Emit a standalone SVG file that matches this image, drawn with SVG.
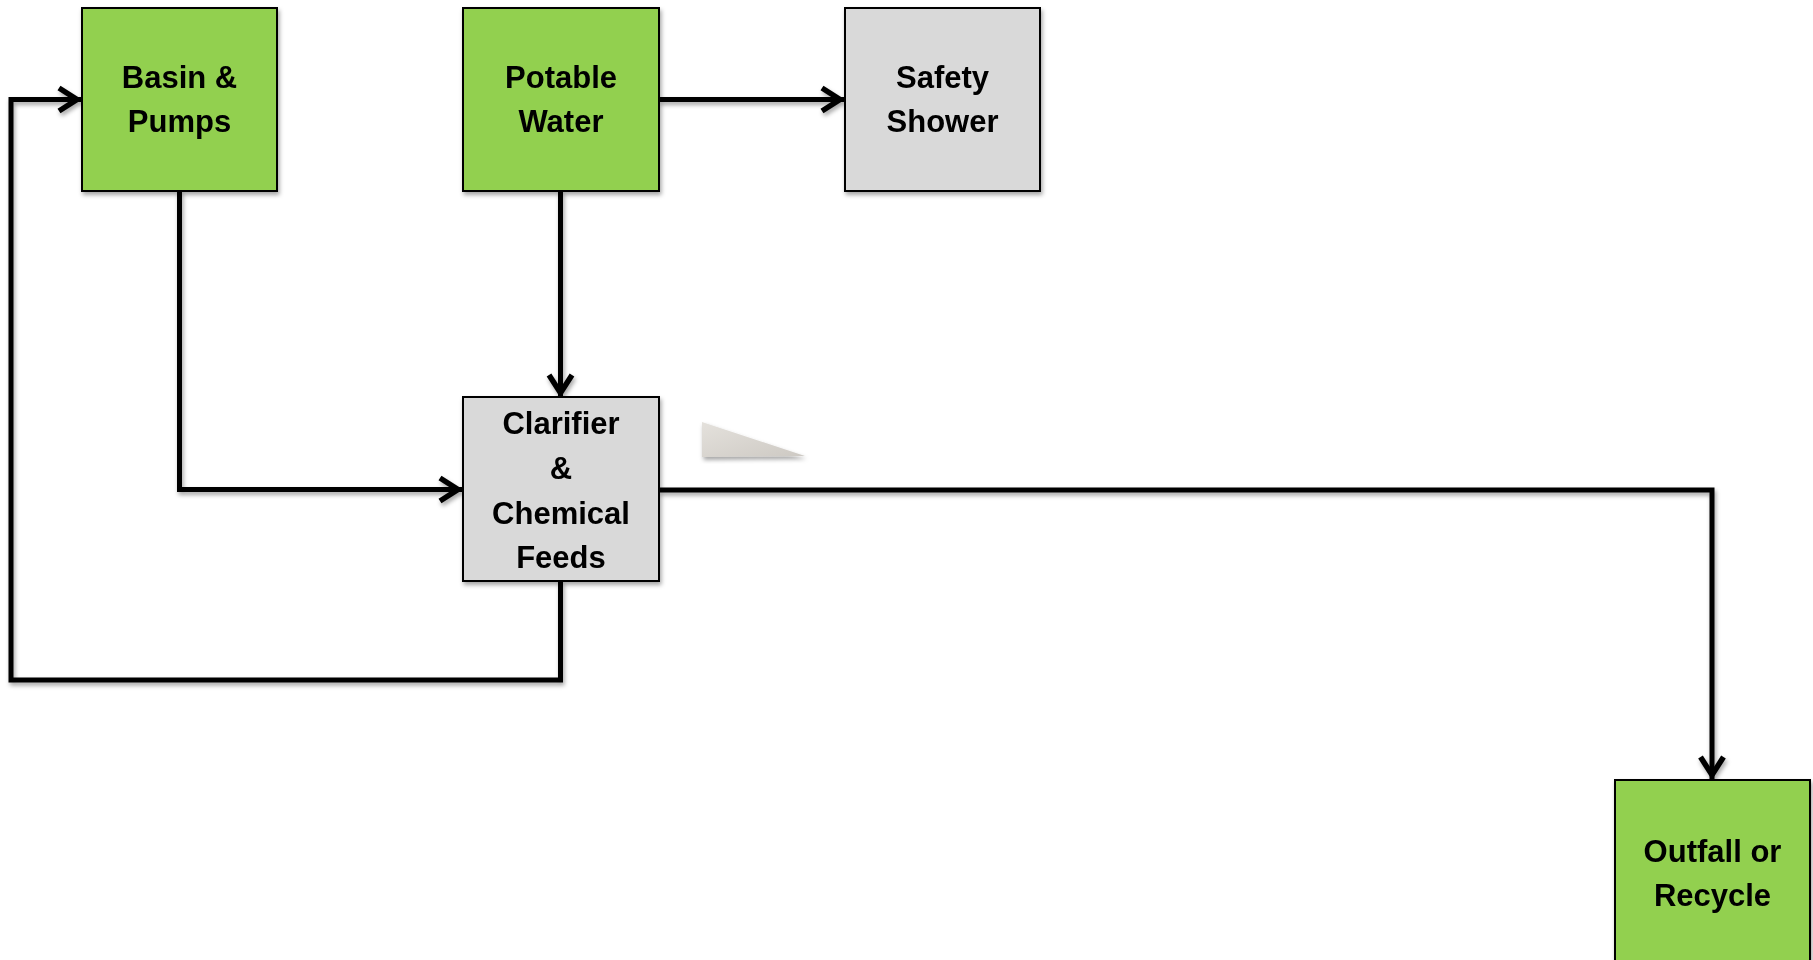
<svg xmlns="http://www.w3.org/2000/svg" width="1813" height="960" viewBox="0 0 1813 960">
  <style>
    .green { fill: #92D050; stroke: #000; stroke-width: 2; }
    .gray { fill: #D9D9D9; stroke: #000; stroke-width: 2; }
    .lbl { font-family: "Liberation Sans", Arial, sans-serif; font-weight: bold; font-size: 31px; fill: #000; text-anchor: middle; }
    .conn { fill: none; stroke: #000; stroke-width: 5; stroke-linejoin: miter; }
  </style>
  <defs>
    <filter id="sh" x="-10%" y="-10%" width="130%" height="130%">
      <feDropShadow dx="1.5" dy="3" stdDeviation="2" flood-color="#000" flood-opacity="0.35"/>
    </filter>
    <linearGradient id="tri" x1="0" y1="0" x2="1" y2="1">
      <stop offset="0" stop-color="#e4e1dc"/>
      <stop offset="1" stop-color="#cdc9c3"/>
    </linearGradient>
    <marker id="arr" viewBox="0 0 30 30" refX="25" refY="15" markerWidth="30" markerHeight="30" orient="auto" markerUnits="userSpaceOnUse">
      <path d="M3,3.5 L21,15 L3,26.5" fill="none" stroke="#000" stroke-width="5.5"/>
    </marker>
  </defs>
  <rect width="1813" height="960" fill="#fff"/>

  <g id="connectors" filter="url(#sh)">
    <path class="conn" d="M560.5,581 V680 H11 V99.5 H81" marker-end="url(#arr)"/>
    <path class="conn" d="M179.5,191 V489.5 H462" marker-end="url(#arr)"/>
    <path class="conn" d="M560.5,191 V397" marker-end="url(#arr)"/>
    <path class="conn" d="M659,99.5 H844" marker-end="url(#arr)"/>
    <path class="conn" d="M659,490 H1712 V779" marker-end="url(#arr)"/>
  </g>

  <g id="basin" filter="url(#sh)">
    <rect class="green" x="82" y="8" width="195" height="183"/>
    <text class="lbl" x="179.5" y="88">Basin &amp;</text>
    <text class="lbl" x="179.5" y="132">Pumps</text>
  </g>

  <g id="potable" filter="url(#sh)">
    <rect class="green" x="463" y="8" width="196" height="183"/>
    <text class="lbl" x="561" y="88">Potable</text>
    <text class="lbl" x="561" y="132">Water</text>
  </g>

  <g id="safety" filter="url(#sh)">
    <rect class="gray" x="845" y="8" width="195" height="183"/>
    <text class="lbl" x="942.5" y="88">Safety</text>
    <text class="lbl" x="942.5" y="132">Shower</text>
  </g>

  <g id="clarifier" filter="url(#sh)">
    <rect class="gray" x="463" y="397" width="196" height="184"/>
    <text class="lbl" x="561" y="434">Clarifier</text>
    <text class="lbl" x="561" y="479">&amp;</text>
    <text class="lbl" x="561" y="524">Chemical</text>
    <text class="lbl" x="561" y="568">Feeds</text>
  </g>

  <g id="outfall" filter="url(#sh)">
    <rect class="green" x="1615" y="780" width="195" height="190"/>
    <text class="lbl" x="1712.5" y="862">Outfall or</text>
    <text class="lbl" x="1712.5" y="906">Recycle</text>
  </g>

  <g id="wedge" filter="url(#sh)">
    <polygon points="702,422 805,456 702,457" fill="url(#tri)"/>
  </g>
</svg>
